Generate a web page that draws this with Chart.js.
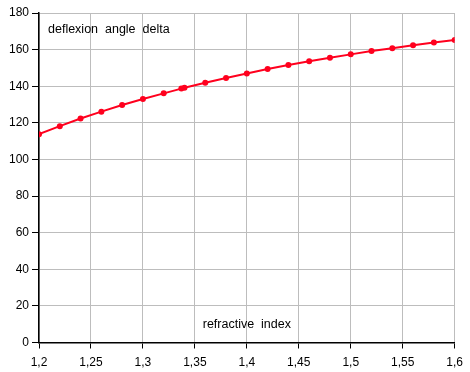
<!DOCTYPE html>
<html>
<head>
<meta charset="utf-8">
<script src="https://cdn.jsdelivr.net/npm/chart.js@4/dist/chart.umd.min.js"></script>
<style>
  html, body { margin: 0; padding: 0; background: #fff; }
  #wrap { width: 470px; height: 372px; }
</style>
</head>
<body>
<div id="wrap"><canvas id="c" width="470" height="372"></canvas></div>
<script>
// refractive index (x) and deflexion angle (y, degrees)
const refIndex = [1.2, 1.22, 1.24, 1.26, 1.28, 1.3, 1.32, 1.337, 1.34, 1.36, 1.38,
    1.4, 1.42, 1.44, 1.46, 1.48, 1.5, 1.52, 1.54, 1.56, 1.58, 1.6];
const deltaAngle = [113.8, 118.2, 122.4, 126.1, 129.7, 133.0, 136.1, 138.7, 139.2, 141.9, 144.5,
    147.0, 149.4, 151.6, 153.7, 155.5, 157.4, 159.2, 160.8, 162.4, 163.9, 165.3];

const xTitle = "refractive  index";
const yTitle = "deflexion  angle  delta";

const FONT = "'Liberation Sans', Arial, sans-serif";
const RED = "rgb(255, 0, 30)";

// axis titles are drawn inside the plot area
const innerTitles = {
    id: "innerTitles",
    afterDraw(chart) {
        const { ctx, chartArea } = chart;
        ctx.save();
        ctx.fillStyle = "#000";
        ctx.font = "12.5px " + FONT;
        ctx.textBaseline = "alphabetic";
        ctx.textAlign = "left";
        ctx.fillText(yTitle, chartArea.left + 9, chartArea.top + 20);
        ctx.textAlign = "center";
        ctx.fillText(xTitle, (chartArea.left + chartArea.right) / 2, chartArea.bottom - 15);
        ctx.restore();
    },
};

function fmt(v) {
    return String(Number(v.toFixed(2))).replace(".", ",");
}

new Chart(document.getElementById("c").getContext("2d"), {
    type: "scatter",
    data: {
        datasets: [{
            data: refIndex.map((x, i) => ({ x, y: deltaAngle[i] })),
            showLine: true,
            borderColor: RED,
            backgroundColor: RED,
            borderWidth: 2,
            pointRadius: 3,
            pointBackgroundColor: RED,
            pointBorderWidth: 0,
            tension: 0,
        }],
    },
    options: {
        responsive: false,
        animation: false,
        layout: { padding: { top: 13, right: 14, left: 0, bottom: 0 } },
        plugins: { legend: { display: false }, tooltip: { enabled: false } },
        scales: {
            x: {
                type: "linear",
                min: 1.2,
                max: 1.6,
                afterFit: (s) => { s.height = 29.5; },
                ticks: {
                    stepSize: 0.05,
                    color: "#000",
                    padding: 7,
                    font: { family: FONT, size: 12 },
                    callback: (v) => fmt(v),
                },
                grid: { color: "#bdbdbd", tickColor: "#000", tickLength: 6 },
                border: { color: "#000", width: 1.5 },
            },
            y: {
                min: 0,
                max: 180,
                afterFit: (s) => { s.width = 39; },
                ticks: {
                    stepSize: 20,
                    color: "#000",
                    padding: 3,
                    font: { family: FONT, size: 12 },
                },
                grid: { color: "#bdbdbd", tickColor: "#000", tickLength: 7 },
                border: { color: "#000", width: 1.5 },
            },
        },
    },
    plugins: [innerTitles],
});
</script>
</body>
</html>
